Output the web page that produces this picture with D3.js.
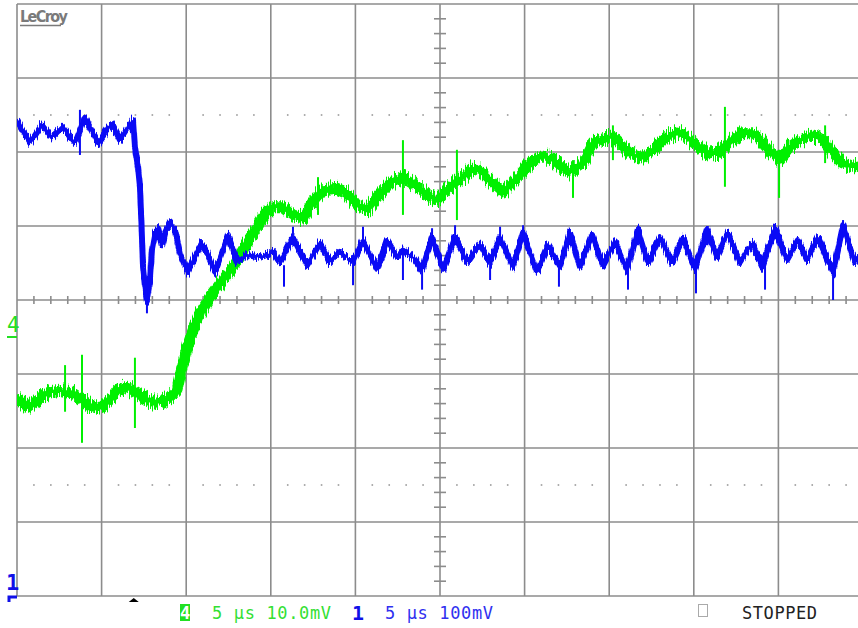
<!DOCTYPE html>
<html>
<head>
<meta charset="utf-8">
<script src="https://cdn.jsdelivr.net/npm/d3@7"></script>
<style>
  body { margin: 0; background: #fff; }
  svg { display: block; }
</style>
</head>
<body>
<svg id="scope" width="858" height="628"></svg>
<script>
// timebase and vertical settings as shown on the scope
var timePerDiv = 5;       // us / div
var ch1PerDiv = 100;      // mV / div
var ch4PerDiv = 10;       // mV / div

// channel 1 (blue), [time us, mV above ch1 ground]
var ch1Trace = [
  [0, 643], [0.77, 612], [1.48, 637], [2.07, 620], [2.66, 634], [3.43, 612],
  [4.02, 646], [4.79, 612], [5.61, 639], [6.09, 616], [6.86, 643], [6.97, 607],
  [7.15, 580], [7.27, 553], [7.33, 518], [7.39, 481], [7.45, 445], [7.57, 418],
  [7.68, 400], [7.86, 427], [7.98, 468], [8.16, 491], [8.33, 497], [8.57, 474],
  [8.75, 491], [9.04, 505], [9.34, 495], [9.63, 464], [10.11, 438], [10.52, 458],
  [10.93, 477], [11.23, 464], [11.70, 437], [12.12, 464], [12.47, 488], [12.77, 468],
  [13.00, 451], [13.59, 461], [14.36, 457], [15.13, 465], [15.54, 450], [16.31, 485],
  [17.14, 447], [17.91, 477], [18.50, 451], [19.09, 465], [19.86, 451], [20.45, 481],
  [21.28, 441], [21.87, 481], [22.46, 458], [22.81, 468], [23.40, 458], [23.94, 441],
  [24.53, 485], [25.18, 441], [25.89, 485], [26.60, 451], [27.36, 476], [27.96, 450],
  [28.55, 485], [29.31, 445], [29.91, 491], [30.73, 437], [31.38, 474], [32.09, 445],
  [32.68, 491], [33.27, 445], [33.98, 488], [34.63, 447], [35.34, 478], [36.05, 441],
  [36.70, 495], [37.29, 450], [38.00, 485], [38.71, 450], [39.36, 484], [40.07, 441],
  [40.78, 495], [41.37, 458], [42.02, 491], [42.73, 450], [43.44, 477], [44.03, 445],
  [44.80, 497], [45.51, 454], [46.16, 481], [46.69, 454], [47.34, 485], [48.23, 437],
  [48.82, 501], [49.53, 450], [49.90, 461]
];

// channel 1 glitches, [time us, top mV, bottom mV]
var ch1Spikes = [
  [3.72, 657, 596], [7.68, 414, 382], [15.78, 447, 418], [16.31, 499, 482],
  [19.86, 461, 420], [20.45, 499, 474], [22.81, 468, 427], [23.94, 451, 414],
  [24.53, 497, 474], [25.89, 501, 474], [27.96, 461, 427], [28.55, 499, 474],
  [29.91, 501, 482], [32.03, 454, 418], [32.68, 496, 474], [36.11, 451, 414],
  [36.70, 500, 474], [40.13, 451, 409], [40.78, 500, 474], [44.21, 451, 414],
  [44.80, 503, 482], [48.23, 451, 400], [48.82, 508, 488]
];

// channel 4 (green), [time us, mV above ch4 ground]
var ch4Trace = [
  [0, -8.1], [0.59, -9.5], [1.18, -8.5], [1.95, -7.4], [2.54, -7.2], [3.31, -7.6],
  [4.31, -9.2], [4.91, -9.6], [5.32, -8.9], [5.91, -7.2], [6.50, -6.8], [7.45, -8.1],
  [8.04, -8.8], [8.63, -8.8], [9.04, -8.2], [9.46, -7.2], [9.63, -5.4], [9.81, -3.5],
  [10.05, -1.4], [10.40, 0.9], [10.82, 3.2], [11.41, 5.4], [12.17, 7.7], [12.77, 9.5],
  [13.36, 11.8], [13.95, 14.1], [14.54, 16.2], [15.13, 17.6], [15.72, 17.6], [16.31, 16.5],
  [16.90, 16.1], [17.43, 18.1], [18.09, 19.9], [18.91, 20.1], [19.50, 19.5], [20.09, 17.8],
  [20.69, 17.2], [21.28, 18.9], [22.04, 20.8], [22.81, 21.6], [23.64, 20.3], [24.23, 19.2],
  [24.82, 18.5], [25.41, 19.9], [26.36, 21.6], [26.95, 22.8], [27.54, 22.2], [28.13, 20.8],
  [28.72, 19.6], [29.31, 20.9], [30.14, 23.0], [30.91, 24.3], [31.50, 24.3], [32.09, 23.2],
  [32.68, 22.3], [33.45, 23.5], [34.04, 26.2], [34.87, 27.0], [35.22, 27.0], [35.82, 25.7],
  [36.41, 24.6], [37.00, 24.2], [37.83, 25.7], [38.42, 27.0], [39.01, 27.7], [39.60, 27.0],
  [40.19, 25.9], [40.78, 24.9], [41.37, 24.9], [42.32, 26.6], [42.91, 27.6], [43.50, 27.6],
  [44.09, 26.2], [44.68, 24.6], [45.09, 23.9], [45.69, 25.7], [46.28, 26.6], [47.04, 27.3],
  [47.64, 26.6], [48.23, 24.9], [48.82, 23.5], [49.53, 23.0], [49.90, 23.2]
];

// channel 4 glitches, [time us, top mV, bottom mV]
var ch4Spikes = [
  [2.84, -3.8, -10.1], [3.84, -2.4, -14.3], [6.97, -2.8, -12.3], [17.79, 21.6, 16.5],
  [22.81, 26.6, 16.5], [26.00, 25.3, 15.8], [32.86, 23.9, 18.8], [35.22, 28.6, 23.9],
  [41.84, 31.1, 20.3], [45.04, 25.3, 18.8], [47.76, 28.6, 23.5]
];

var ch4Ground = -0.5;   // divs, where the "4" marker sits
var ch1Ground = -4;     // divs, ch1 marker at bottom edge
var triggerTime = 6.9;  // us

var svg = d3.select('#scope');
var gridLeft = 17, gridTop = 4, divW = 84.6, divH = 74;

var x = d3.scaleLinear().domain([0, 10 * timePerDiv]).range([gridLeft, gridLeft + 10 * divW]);
var yDiv = d3.scaleLinear().domain([-4, 4]).range([gridTop + 8 * divH, gridTop]);
var y1 = d3.scaleLinear()
  .domain([(-4 - ch1Ground) * ch1PerDiv, (4 - ch1Ground) * ch1PerDiv])
  .range(yDiv.range());
var y4 = d3.scaleLinear()
  .domain([(-4 - ch4Ground) * ch4PerDiv, (4 - ch4Ground) * ch4PerDiv])
  .range(yDiv.range());

var gridColor = '#8c8c8c';
var defs = svg.append('defs');

defs.append('clipPath').attr('id', 'screen')
  .append('rect')
  .attr('x', x(0)).attr('y', yDiv(4))
  .attr('width', x(50) - x(0)).attr('height', yDiv(-4) - yDiv(4));

// scope noise look: columns of the trace jitter up and down
function fuzz(id, amount, seed) {
  var f = defs.append('filter').attr('id', id)
    .attr('color-interpolation-filters', 'sRGB')
    .attr('x', '-2%').attr('y', '-30%').attr('width', '104%').attr('height', '160%');
  f.append('feTurbulence')
    .attr('type', 'fractalNoise')
    .attr('baseFrequency', '0.95 0.06')
    .attr('numOctaves', 2)
    .attr('seed', seed)
    .attr('result', 'n');
  f.append('feColorMatrix')
    .attr('in', 'n')
    .attr('type', 'matrix')
    .attr('values', '0 0 0 0 0.5  0 2.2 0 0 -0.6  0 0 0 0 0  0 0 0 0 1')
    .attr('result', 'm');
  f.append('feDisplacementMap')
    .attr('in', 'SourceGraphic')
    .attr('in2', 'm')
    .attr('scale', amount)
    .attr('xChannelSelector', 'R')
    .attr('yChannelSelector', 'G');
}
fuzz('fuzzBlue', 6, 4);
fuzz('fuzzGreen', 8, 9);

// grid
var grid = svg.append('g').attr('stroke', gridColor).attr('stroke-width', 1.6);

grid.selectAll('line.v')
  .data(d3.range(0, 51, timePerDiv))
  .enter().append('line')
  .attr('class', 'v')
  .attr('x1', x).attr('x2', x)
  .attr('y1', yDiv(4)).attr('y2', yDiv(-4));

grid.selectAll('line.h')
  .data(d3.range(-4, 5))
  .enter().append('line')
  .attr('class', 'h')
  .attr('x1', x(0)).attr('x2', x(50))
  .attr('y1', yDiv).attr('y2', yDiv);

// minor ticks on centre axes
var minorT = d3.range(0, 50.01, timePerDiv / 5).filter(function (t) { return Math.abs(t / timePerDiv - Math.round(t / timePerDiv)) > 0.01; });
var minorD = d3.range(-4, 4.01, 0.2).filter(function (d) { return Math.abs(d - Math.round(d)) > 0.01; });

grid.selectAll('line.tx')
  .data(minorT)
  .enter().append('line')
  .attr('class', 'tx')
  .attr('x1', x).attr('x2', x)
  .attr('y1', yDiv(0) - 4).attr('y2', yDiv(0) + 4);

grid.selectAll('line.ty')
  .data(minorD)
  .enter().append('line')
  .attr('class', 'ty')
  .attr('x1', x(25) - 6).attr('x2', x(25) + 6)
  .attr('y1', yDiv).attr('y2', yDiv);

// dotted rows at +/- 2.5 div
var dots = [];
[2.5, -2.5].forEach(function (d) {
  minorT.forEach(function (t) { dots.push([t, d]); });
});
svg.append('g').attr('fill', '#9a9a9a')
  .selectAll('rect')
  .data(dots)
  .enter().append('rect')
  .attr('x', function (d) { return x(d[0]) - 0.8; })
  .attr('y', function (d) { return yDiv(d[1]) - 0.8; })
  .attr('width', 1.6).attr('height', 1.6);

// traces
var screen = svg.append('g').attr('clip-path', 'url(#screen)');

function drawTrace(data, spikes, yScale, color, width, filterId) {
  var g = screen.append('g').attr('filter', 'url(#' + filterId + ')');
  g.append('path')
    .datum(data)
    .attr('fill', 'none')
    .attr('stroke', color)
    .attr('stroke-width', width)
    .attr('stroke-linejoin', 'round')
    .attr('d', d3.line().x(function (d) { return x(d[0]); }).y(function (d) { return yScale(d[1]); }));
  screen.append('g').selectAll('line')
    .data(spikes)
    .enter().append('line')
    .attr('stroke', color)
    .attr('stroke-width', 2)
    .attr('x1', function (d) { return x(d[0]); })
    .attr('x2', function (d) { return x(d[0]); })
    .attr('y1', function (d) { return yScale(d[1]); })
    .attr('y2', function (d) { return yScale(d[2]); });
}

drawTrace(ch4Trace, ch4Spikes, y4, '#00f000', 11, 'fuzzGreen');
drawTrace(ch1Trace, ch1Spikes, y1, '#0a0af5', 6, 'fuzzBlue');

// brand
svg.append('text')
  .attr('x', 20).attr('y', 22)
  .attr('fill', '#7a7a7a')
  .attr('font-family', 'DejaVu Sans Condensed, DejaVu Sans')
  .attr('font-weight', 'bold')
  .attr('font-size', 16)
  .attr('textLength', 48)
  .text('LeCroy');
svg.append('line')
  .attr('x1', 20).attr('x2', 61).attr('y1', 25.5).attr('y2', 25.5)
  .attr('stroke', '#7a7a7a').attr('stroke-width', 1.5);

// channel markers
var mono = 'DejaVu Sans Mono, Liberation Mono, monospace';
svg.append('text')
  .attr('x', 7).attr('y', yDiv(ch4Ground) - 5)
  .attr('fill', '#22e022').attr('font-family', mono).attr('font-size', 21)
  .text('4');
svg.append('line')
  .attr('x1', 7).attr('x2', 17).attr('y1', yDiv(ch4Ground)).attr('y2', yDiv(ch4Ground))
  .attr('stroke', '#22e022').attr('stroke-width', 2);

svg.append('text')
  .attr('x', 6).attr('y', yDiv(ch1Ground) - 6)
  .attr('fill', '#1010e8').attr('font-family', mono).attr('font-weight', 'bold').attr('font-size', 22)
  .text('1');
svg.append('path')
  .attr('d', 'M9,' + (yDiv(ch1Ground) + 6) + 'V' + (yDiv(ch1Ground) + 1) + 'H17')
  .attr('fill', 'none').attr('stroke', '#1010e8').attr('stroke-width', 3);

// trigger position
var trigX = x(triggerTime), trigY = yDiv(-4) + 2;
svg.append('path')
  .attr('d', 'M' + (trigX - 5) + ',' + (trigY + 4) + 'L' + (trigX + 5) + ',' + (trigY + 4) + 'L' + trigX + ',' + trigY + 'Z')
  .attr('fill', '#000');

// status line
var statusBar = svg.append('g').attr('font-family', mono).attr('font-size', 17);

statusBar.append('rect')
  .attr('x', 180).attr('y', 604).attr('width', 10).attr('height', 17)
  .attr('fill', '#22e022');
statusBar.append('text')
  .attr('x', 185).attr('y', 619).attr('text-anchor', 'middle')
  .attr('fill', '#fff').attr('font-weight', 'bold').text('4');
statusBar.append('text')
  .attr('x', 212).attr('y', 619).attr('fill', '#33e033')
  .attr('textLength', 119).attr('lengthAdjust', 'spacing')
  .text(timePerDiv + ' \u03bcs ' + ch4PerDiv.toFixed(1) + 'mV');

statusBar.append('text')
  .attr('x', 352).attr('y', 620).attr('fill', '#1010e8')
  .attr('font-weight', 'bold').attr('font-size', 20).text('1');
statusBar.append('text')
  .attr('x', 385).attr('y', 619).attr('fill', '#3030f0')
  .attr('textLength', 108).attr('lengthAdjust', 'spacing')
  .text(timePerDiv + ' \u03bcs ' + ch1PerDiv + 'mV');

statusBar.append('rect')
  .attr('x', 698.5).attr('y', 604.5).attr('width', 9).attr('height', 12)
  .attr('fill', 'none').attr('stroke', '#aaa').attr('stroke-width', 1);
statusBar.append('text')
  .attr('x', 742).attr('y', 619).attr('fill', '#222')
  .attr('textLength', 75).attr('lengthAdjust', 'spacing')
  .text('STOPPED');
</script>
</body>
</html>
